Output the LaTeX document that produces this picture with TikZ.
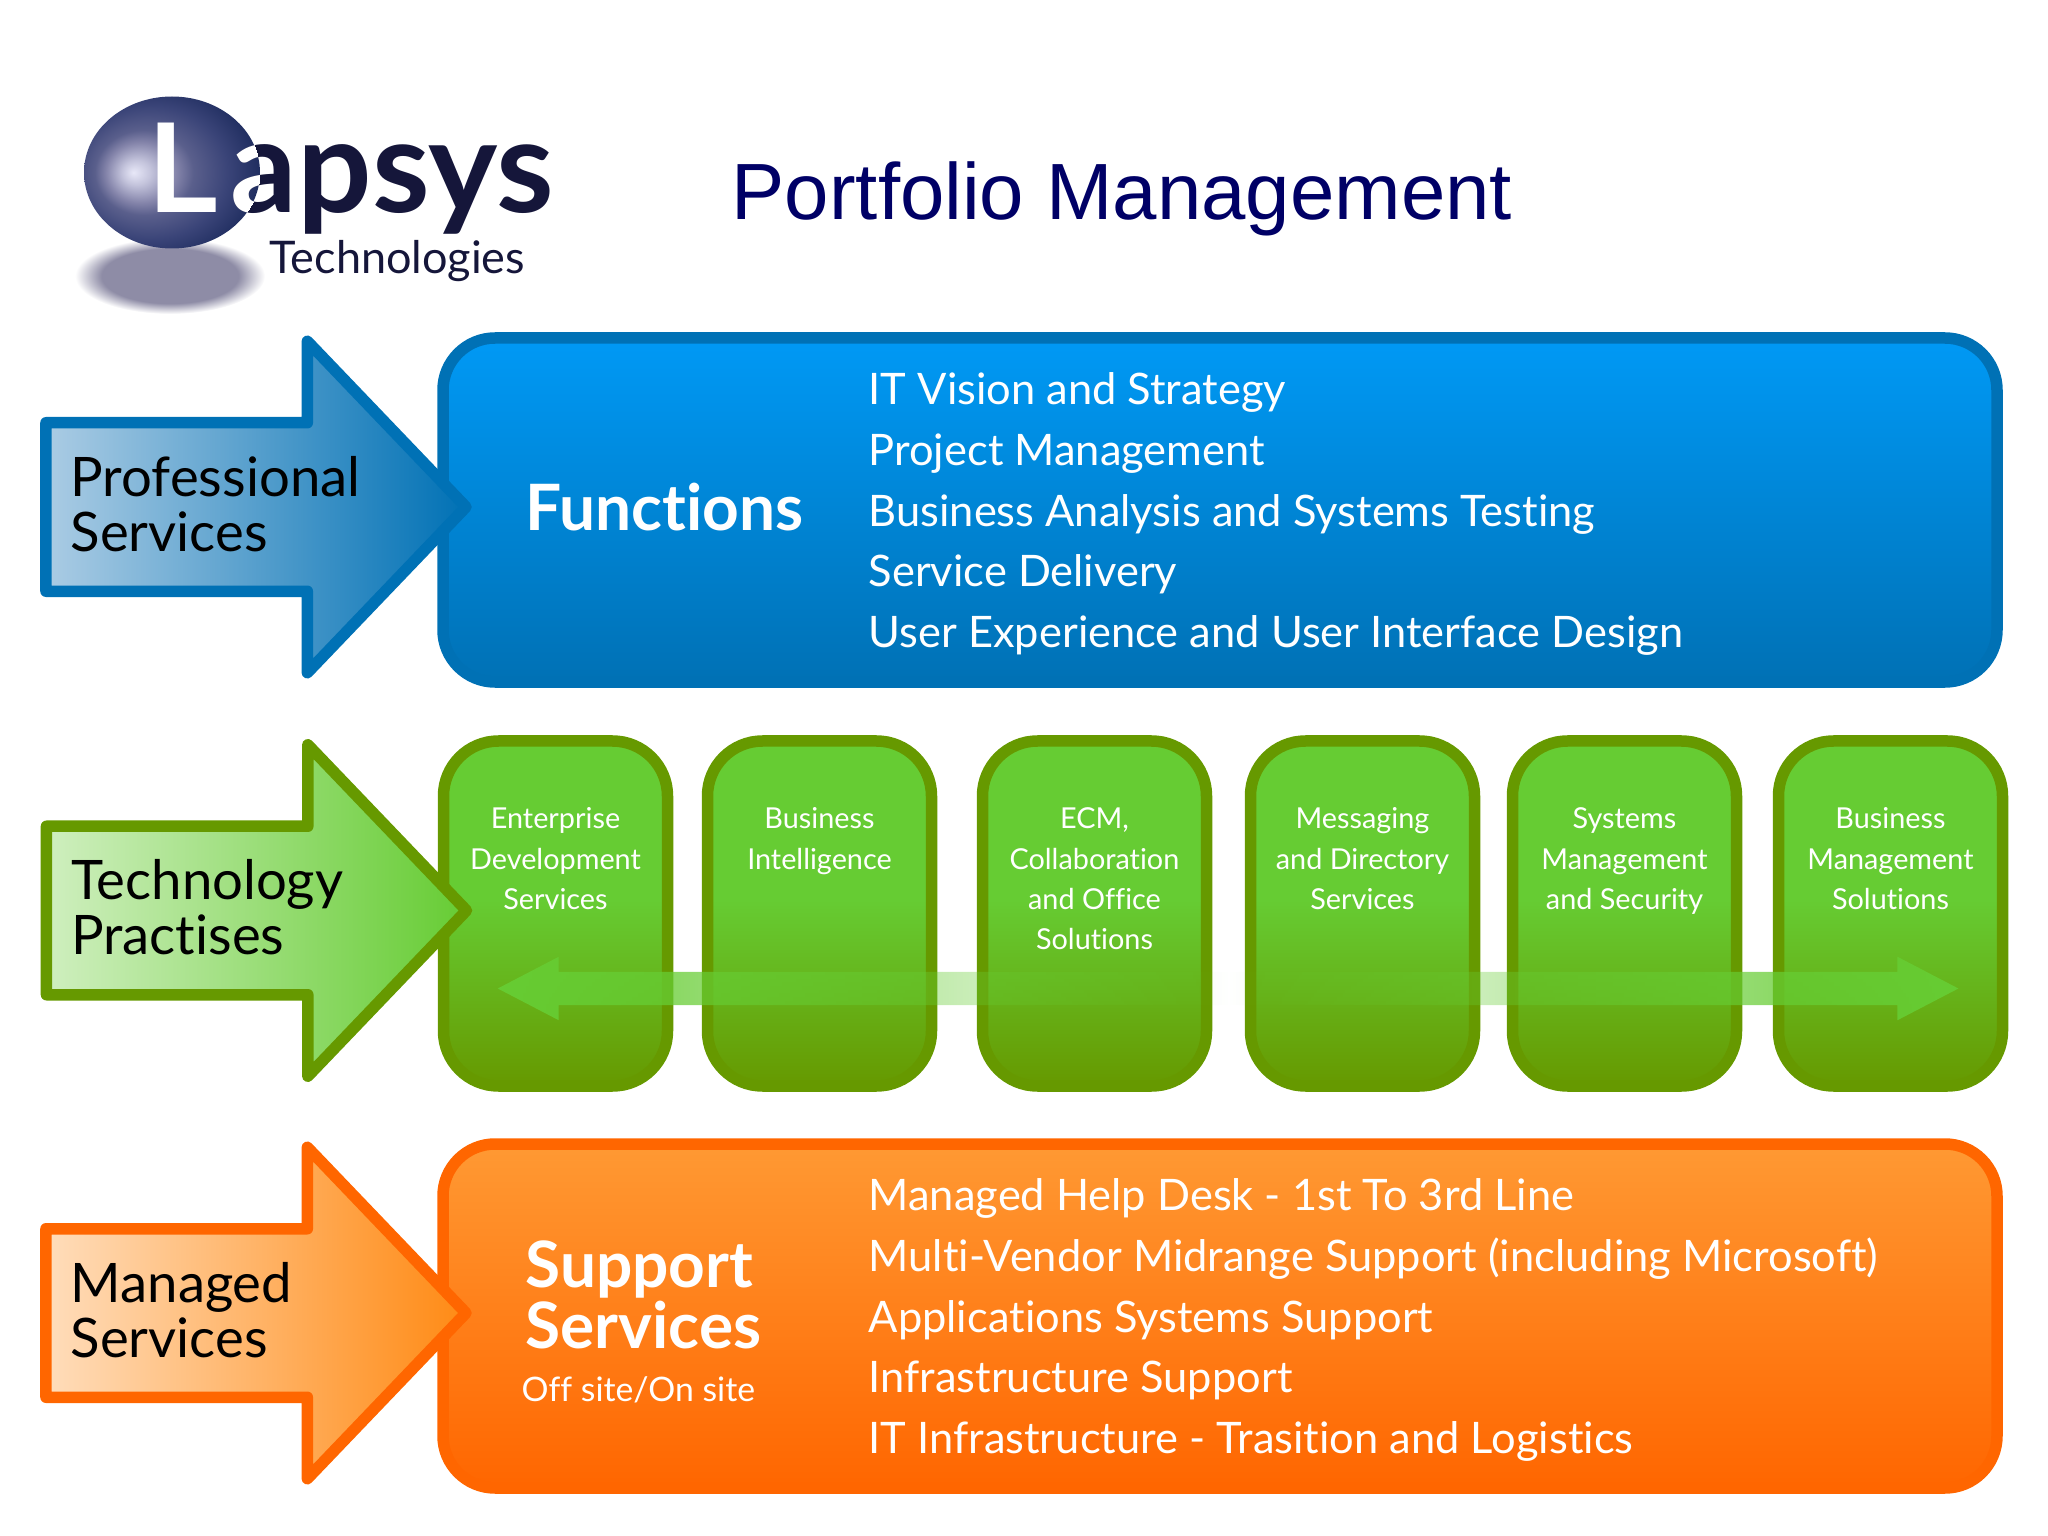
\documentclass[tikz,border=0pt]{standalone}
\usepackage{fontspec}
\usepackage{xcolor}
\usepackage{tikz}
\usetikzlibrary{shapes,arrows,calc,fadings}
\setmainfont[Ligatures=NoCommon]{Lato}
\newfontfamily\titlefont{Liberation Sans}

\definecolor{titleblue}{HTML}{000066}
\definecolor{blueedge}{HTML}{0071B5}
\definecolor{bluetop}{HTML}{0099F5}
\definecolor{bluepale}{HTML}{ABCCE4}
\definecolor{greenedge}{HTML}{669900}
\definecolor{greentop}{HTML}{66CC33}
\definecolor{greenpale}{HTML}{CFEFBF}
\definecolor{orangeedge}{HTML}{FF6600}
\definecolor{orangetop}{HTML}{FF9933}
\definecolor{orangepale}{HTML}{FFDDBB}
\definecolor{orangeend}{HTML}{FF8A14}
\definecolor{logoink}{HTML}{15163A}
\definecolor{logoshadow}{HTML}{8E8CA6}
\definecolor{sphereglow}{HTML}{E8E8F8}
\definecolor{spherelight}{HTML}{C4C4DC}
\definecolor{spheremid}{HTML}{8484AA}
\definecolor{spherelow}{HTML}{5A5F8C}
\definecolor{spheredeep}{HTML}{3A4478}
\definecolor{sphereedge}{HTML}{1E2C5E}

\pgfdeclareverticalshading{greenfill}{100bp}{color(0bp)=(greenedge);
  color(25bp)=(greenedge); color(52bp)=(greentop); color(100bp)=(greentop)}
\pgfdeclareradialshading{logosphere}{\pgfpoint{-11bp}{0bp}}{color(0bp)=(sphereglow);
  color(4bp)=(spherelight); color(10bp)=(spheremid); color(14bp)=(spherelow);
  color(22bp)=(spheredeep); color(30bp)=(sphereedge); color(50bp)=(sphereedge)}
\pgfdeclareradialshading{logoblur}{\pgfpoint{0bp}{0bp}}{color(0bp)=(logoshadow);
  color(18bp)=(logoshadow); color(25bp)=(white); color(50bp)=(white)}
\tikzfading[name=fadecentre, left color=transparent!0,
  right color=transparent!0, middle color=transparent!100]

\begin{document}
\begin{tikzpicture}[auto, node distance=2cm]
\tikzset{rowbox/.style = {rectangle, line width=.115cm, minimum width=15.54cm,
  minimum height=3.44cm, rounded corners=.52cm, outer sep=0pt},
  cardbox/.style = {rectangle, line width=.115cm, draw=greenedge, shading=greenfill,
  minimum width=2.24cm, minimum height=3.45cm, rounded corners=.55cm, outer sep=0pt},
  rowarrow/.style = {single arrow, line width=.115cm, line join=round,
  minimum height=4.2cm, inner xsep=0pt, inner ysep=.785cm, outer sep=0pt,
  single arrow head extend=.815cm, single arrow tip angle=92.5, anchor=tip,
  xshift=.23cm, yshift=.03cm},
  arrowtext/.style = {anchor=west, inner sep=0pt, align=left, text=black,
  font=\fontsize{15.5}{15.7}\selectfont},
  listtext/.style = {anchor=west, inner sep=0pt, align=left, text=white,
  font=\fontsize{12.35}{17.27}\selectfont},
  headtext/.style = {anchor=west, inner sep=0pt, align=left, text=white,
  font=\fontsize{18.2}{17.5}\selectfont\bfseries},
  cardtext/.style = {anchor=north, inner sep=0pt, align=center, text=white,
  font=\fontsize{8.2}{11.5}\selectfont}}
\pgfdeclarelayer{background}
\pgfdeclarelayer{foreground}
\pgfsetlayers{background,main,foreground}

  \useasboundingbox (0,0) rectangle (20.48,-15.36);

  \begin{pgfonlayer}{background}
    \node[rowbox, draw=blueedge, top color=bluetop, bottom color=blueedge]
      (functions) at (12.2,-5.10){};
    \node[rowbox, draw=orangeedge, top color=orangetop, bottom color=orangeedge,
      node distance=8.06cm, below of=functions] (support){};

    \node[cardbox] (enterprise) at (5.555,-9.135){};
    \node[cardbox, node distance=2.64cm, right of=enterprise] (intelligence){};
    \node[cardbox, node distance=2.75cm, right of=intelligence] (ecm){};
    \node[cardbox, node distance=2.68cm, right of=ecm] (messaging){};
    \node[cardbox, node distance=2.62cm, right of=messaging] (systems){};
    \node[cardbox, node distance=2.66cm, right of=systems] (solutions){};
  \end{pgfonlayer}

  % the pale band behind the green columns
  \node[double arrow, fill=greentop, draw=none, path fading=fadecentre,
    minimum height=14.61cm, inner xsep=0pt, inner ysep=.16cm,
    double arrow head extend=.15cm, double arrow tip angle=55]
    (spread) at ($(ecm)!.5!(messaging)+(0,-.75)$){};

  \node[rowarrow, draw=blueedge, left color=bluepale, right color=blueedge]
    (professional) at (functions.west){};
  \node[rowarrow, draw=greenedge, left color=greenpale, right color=greentop]
    (technology) at (enterprise.west){};
  \node[rowarrow, draw=orangeedge, left color=orangepale, right color=orangeend]
    (managed) at (support.west){};

  \begin{pgfonlayer}{foreground}
    \node[arrowtext, xshift=-3.96cm, yshift=.03cm] (professionaltext) at (professional.tip)
      {Professional\\Services};
    \node[arrowtext, xshift=-3.96cm, yshift=.03cm] (technologytext) at (technology.tip)
      {Technology\\Practises};
    \node[arrowtext, xshift=-3.96cm, yshift=.03cm] (managedtext) at (managed.tip)
      {Managed\\Services};

    \node[headtext, xshift=.82cm, yshift=.03cm] (functionstitle) at (functions.west){Functions};
    \node[listtext, xshift=4.25cm, yshift=-.04cm] (functionslist) at (functions.west)
      {IT Vision and Strategy\\Project Management\\
      Business Analysis and Systems Testing\\Service Delivery\\
      User Experience and User Interface Design};

    \node[headtext, xshift=.82cm, yshift=.21cm] (supporttitle) at (support.west)
      {Support\\Services};
    \node[listtext, font=\fontsize{9.6}{12}\selectfont, xshift=.78cm, yshift=-.74cm]
      (supportnote) at (support.west){Off site/On site};
    \node[listtext, xshift=4.25cm, yshift=-.04cm] (supportlist) at (support.west)
      {Managed Help Desk - 1st To 3rd Line\\
      Multi-Vendor Midrange Support (including Microsoft)\\
      Applications Systems Support\\Infrastructure Support\\
      IT Infrastructure - Trasition and Logistics};

    \node[cardtext, yshift=-.66cm] (enterprisetext) at (enterprise.north)
      {Enterprise\\Development\\Services};
    \node[cardtext, yshift=-.66cm] (intelligencetext) at (intelligence.north)
      {Business\\Intelligence};
    \node[cardtext, yshift=-.66cm] (ecmtext) at (ecm.north)
      {ECM,\\Collaboration\\and Office\\Solutions};
    \node[cardtext, yshift=-.66cm] (messagingtext) at (messaging.north)
      {Messaging\\and Directory\\Services};
    \node[cardtext, yshift=-.66cm] (systemstext) at (systems.north)
      {Systems\\Management\\and Security};
    \node[cardtext, yshift=-.66cm] (solutionstext) at (solutions.north)
      {Business\\Management\\Solutions};

    \node[anchor=base west, inner sep=0pt, text=titleblue,
      font=\titlefont\fontsize{22.7}{26}\selectfont] (title) at (7.31,-2.20)
      {Portfolio Management};
  \end{pgfonlayer}

  % logo
  \shade[shading=logoblur] (1.70,-2.76) ellipse (.95 and .38);
  \node[ellipse, shading=logosphere, minimum width=1.76cm, minimum height=1.52cm,
    inner sep=0pt, outer sep=0pt] (sphere) at (1.72,-1.725){};
  \node[anchor=base west, inner sep=0pt, text=white, xscale=.87,
    font=\titlefont\bfseries\fontsize{37}{37}\selectfont] (logol) at (1.50,-2.13){L};
  \node[anchor=base west, inner sep=0pt, text=logoink, xscale=1.01,
    font=\bfseries\fontsize{37}{37}\selectfont] (logorest) at (2.30,-2.13){apsys};
  \begin{scope}
    \clip (sphere.center) ellipse (.88 and .76);
    \node[anchor=base west, inner sep=0pt, text=white, xscale=1.01,
      font=\bfseries\fontsize{37}{37}\selectfont] (logoa) at (2.30,-2.13){a};
  \end{scope}
  \node[anchor=base west, inner sep=0pt, text=logoink,
    font=\fontsize{12.8}{12.8}\selectfont] (logosub) at (2.69,-2.74){Technologies};
\end{tikzpicture}
\end{document}
